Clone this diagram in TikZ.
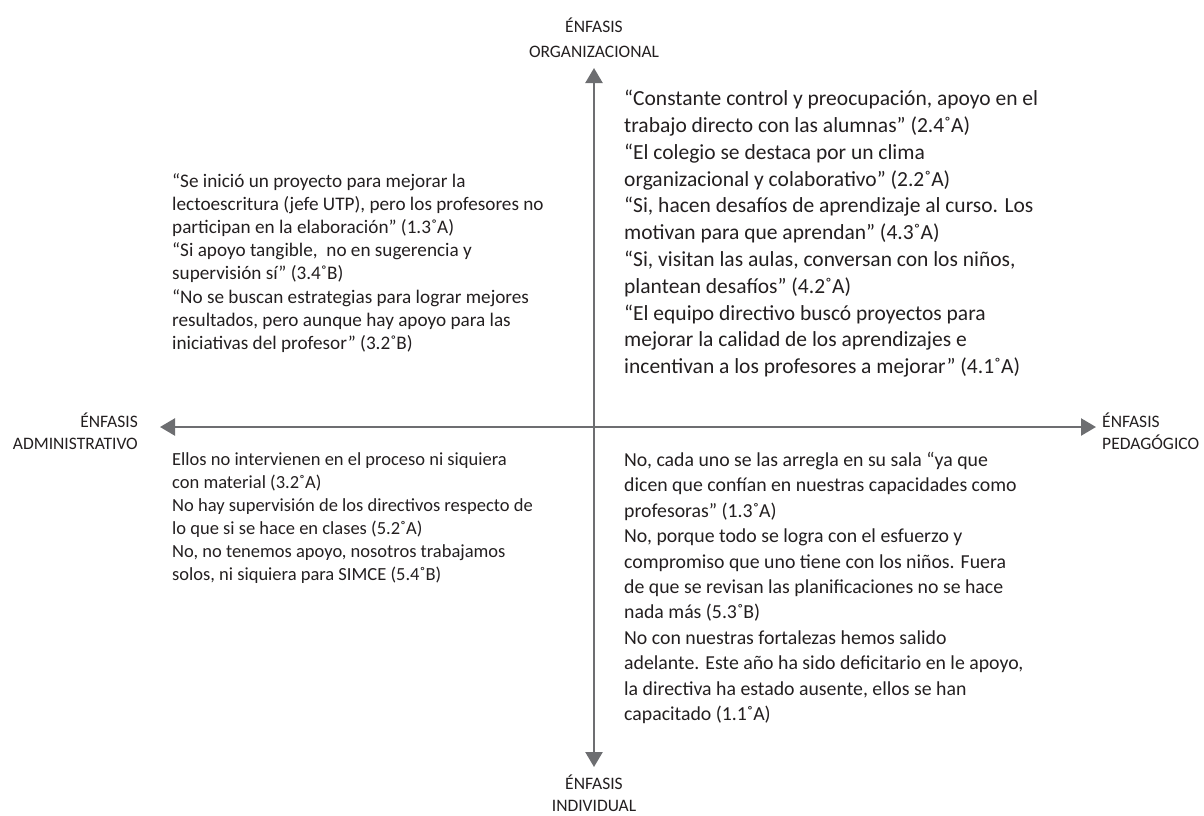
\documentclass[tikz,border=0pt]{standalone}
\usepackage{fontspec}
\setmainfont{Carlito}
\usetikzlibrary{positioning, arrows.meta}

\definecolor{axisgray}{HTML}{6D6E71}
\definecolor{textgray}{HTML}{231F20}

\begin{document}
\begin{tikzpicture}[
  x=1pt, y=-1pt,
  axis/.style={draw=axisgray, line width=2.4pt,
    {Triangle[length=15pt, width=17pt]}-{Triangle[length=15pt, width=17pt]}},
  axlabel/.style={font=\fontsize{17.5}{22}\selectfont, text=textgray, inner sep=0pt},
  cita/.style={font=\fontsize{18.5}{23}\selectfont, text=textgray, inner sep=0pt,
    align=left, anchor=north west}
]
\useasboundingbox (0,0) rectangle (1204,815);

% ends of the two axes
\coordinate (north) at (594,68);
\coordinate (south) at (594,767);
\coordinate (west) at (160,427);
\coordinate (east) at (1096,427);

\draw[axis] (south) -- (north);
\draw[axis] (west) -- (east);

% axis labels
\node[axlabel, font=\fontsize{17.5}{25}\selectfont, align=center, above=10pt of north] (organiz) {ÉNFASIS\\ORGANIZACIONAL};
\node[axlabel, align=center, below=8pt of south] (individ) {ÉNFASIS\\INDIVIDUAL};
\node[axlabel, align=right, left=22pt of west, yshift=-4pt] (admin) {ÉNFASIS\\ADMINISTRATIVO};
\node[axlabel, align=left, right=6pt of east, yshift=-4pt] (pedag) {ÉNFASIS\\PEDAGÓGICO};

% quadrant quotes
\node[cita, font=\fontsize{19.2}{23.2}\selectfont] (qtl) at (172,173) {“Se inició un proyecto para mejorar la\\
lectoescritura (jefe UTP), pero los profesores no\\
participan en la elaboración” (1.3˚A)\\
“Si apoyo tangible,\ \ no en sugerencia y\\
supervisión sí” (3.4˚B)\\
“No se buscan estrategias para lograr mejores\\
resultados, pero aunque hay apoyo para las\\
iniciativas del profesor” (3.2˚B)};

\node[cita, font=\fontsize{21.5}{26.8}\selectfont] (qtr) at (624,90) {“Constante control y preocupación, apoyo en el\\
trabajo directo con las alumnas” (2.4˚A)\\
“El colegio se destaca por un clima\\
organizacional y colaborativo” (2.2˚A)\\
“Si, hacen desafíos de aprendizaje al curso. Los\\
motivan para que aprendan” (4.3˚A)\\
“Si, visitan las aulas, conversan con los niños,\\
plantean desafíos” (4.2˚A)\\
“El equipo directivo buscó proyectos para\\
mejorar la calidad de los aprendizajes e\\
incentivan a los profesores a mejorar” (4.1˚A)};

\node[cita] (qbl) at (172,452) {Ellos no intervienen en el proceso ni siquiera\\
con material (3.2˚A)\\
No hay supervisión de los directivos respecto de\\
lo que si se hace en clases (5.2˚A)\\
No, no tenemos apoyo, nosotros trabajamos\\
solos, ni siquiera para SIMCE (5.4˚B)};

\node[cita, font=\fontsize{19.8}{25.4}\selectfont] (qbr) at (624,452) {No, cada uno se las arregla en su sala “ya que\\
dicen que confían en nuestras capacidades como\\
profesoras” (1.3˚A)\\
No, porque todo se logra con el esfuerzo y\\
compromiso que uno tiene con los niños. Fuera\\
de que se revisan las planificaciones no se hace\\
nada más (5.3˚B)\\
No con nuestras fortalezas hemos salido\\
adelante. Este año ha sido deficitario en le apoyo,\\
la directiva ha estado ausente, ellos se han\\
capacitado (1.1˚A)};

\end{tikzpicture}
\end{document}
